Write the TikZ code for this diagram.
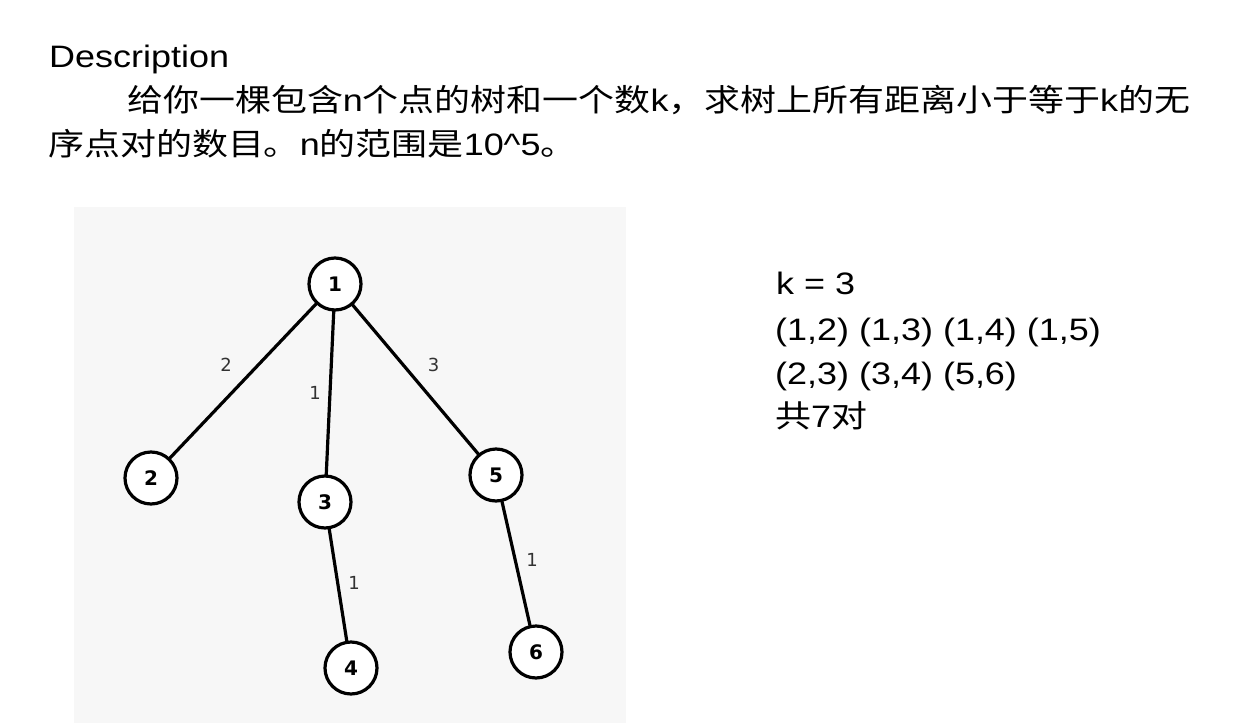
\documentclass[tikz,border=0pt]{standalone}
\usepackage{fontspec}
\usepackage{tkz-graph}
\setmainfont[FakeStretch=1.16]{Liberation Sans}
\newfontfamily\cjk[FakeStretch=1.16]{Noto Sans CJK SC}
\newfontfamily\vertexfont{DejaVu Sans}
\newcommand\vtext[1]{\vertexfont\bfseries\fontsize{20}{20}\selectfont #1}
\newcommand\etext[1]{\vertexfont\fontsize{18}{18}\selectfont #1}
\definecolor{panelgray}{RGB}{247,247,247}
\definecolor{edgegray}{RGB}{50,50,50}
\tikzset{slidetext/.style={anchor=base west, inner sep=0pt, font=\fontsize{31}{44}\selectfont}}

\begin{document}
\begin{tikzpicture}[x=1pt,y=-1pt]
    \fill[white] (0,0) rectangle (1243,723);
    \useasboundingbox (0,0) rectangle (1243,723);
    \fill[panelgray] (74,207) rectangle (626,723);
    \node[slidetext] (desc) at (49,67) {Description};
    \node[slidetext] (line1) at (127,111) {{\cjk 给你一棵包含}n{\cjk 个点的树和一个数}k{\cjk ，求树上所有距离小于等于}k{\cjk 的无}};
    \node[slidetext] (line2) at (48,155) {{\cjk 序点对的数目。}n{\cjk 的范围是}10\textasciicircum5{\cjk 。}};
    \node[slidetext] (kval) at (776,294) {k = 3};
    \node[slidetext] (pairs1) at (775,340) {(1,2) (1,3) (1,4) (1,5)};
    \node[slidetext] (pairs2) at (775,384) {(2,3) (3,4) (5,6)};
    \node[slidetext] (total) at (775,427) {{\cjk 共}7{\cjk 对}};

    \GraphInit[vstyle=Normal]
    \tikzset{VertexStyle/.style={draw, circle, line width=3.2pt, fill=white, minimum size=52pt, inner sep=0pt}}
    \Vertex[x=335,y=284,L={\vtext{1}}]{1}
    \Vertex[x=151,y=478,L={\vtext{2}}]{2}
    \Vertex[x=325,y=502,L={\vtext{3}}]{3}
    \Vertex[x=351,y=668,L={\vtext{4}}]{4}
    \Vertex[x=496,y=475,L={\vtext{5}}]{5}
    \Vertex[x=536,y=652,L={\vtext{6}}]{6}
    \SetUpEdge[lw=3.2pt, color=black, labelcolor=panelgray, labeltext=edgegray]
    \tikzset{LabelStyle/.style={fill=none, text=edgegray, inner sep=0pt}}
    \Edge[label={\etext{2}}, labelstyle={xshift=-17pt, yshift=16pt}](1)(2)
    \Edge[label={\etext{1}}, labelstyle={xshift=-15pt}](1)(3)
    \Edge[label={\etext{3}}, labelstyle={xshift=18pt, yshift=15pt}](1)(5)
    \Edge[label={\etext{1}}, labelstyle={xshift=16pt, yshift=2pt}](3)(4)
    \Edge[label={\etext{1}}, labelstyle={xshift=16pt, yshift=4pt}](5)(6)
\end{tikzpicture}
\end{document}
